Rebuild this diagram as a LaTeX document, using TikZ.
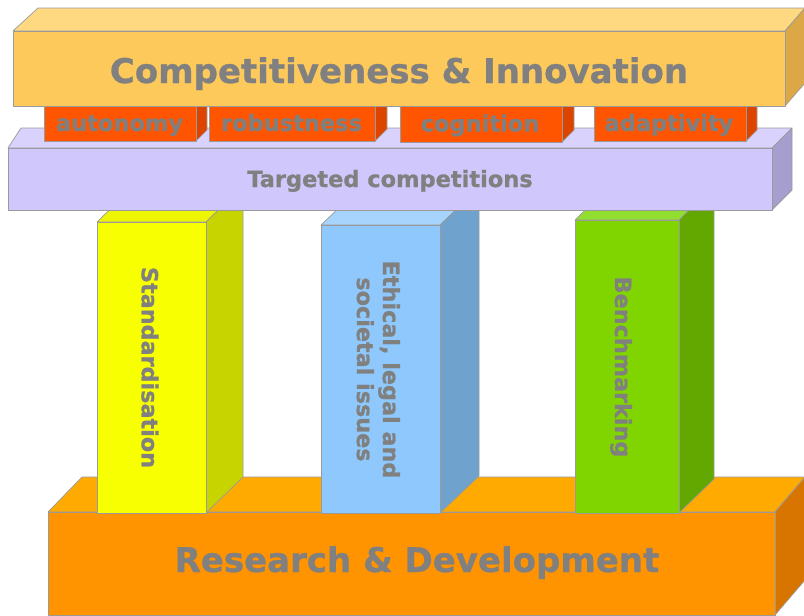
\documentclass[tikz,border=0pt]{standalone}
\usepackage{fontspec}
\setmainfont{DejaVu Sans}[BoldFeatures={FakeBold=0.8}]
\definecolor{txtgray}{HTML}{808080}
\definecolor{edgegray}{HTML}{9A9A9A}
% top box
\definecolor{tcfront}{HTML}{FEC95B}
\definecolor{tctop}{HTML}{FED982}
\definecolor{tcside}{HTML}{DBA747}
% small orange boxes
\definecolor{orfront}{HTML}{FF5500}
\definecolor{ortop}{HTML}{FF7733}
\definecolor{orside}{HTML}{DD4400}
% purple
\definecolor{pufront}{HTML}{D0C8FC}
\definecolor{putop}{HTML}{D8D2FC}
\definecolor{puside}{HTML}{A69ECE}
% yellow pillar
\definecolor{yefront}{HTML}{F8FF00}
\definecolor{yetop}{HTML}{EEF500}
\definecolor{yeside}{HTML}{C8D400}
% blue pillar
\definecolor{blfront}{HTML}{8EC8FC}
\definecolor{bltop}{HTML}{A6D4FC}
\definecolor{blside}{HTML}{70A2CE}
% green pillar
\definecolor{grfront}{HTML}{80D400}
\definecolor{grtop}{HTML}{92DE30}
\definecolor{grside}{HTML}{62A800}
% R&D
\definecolor{rdfront}{HTML}{FF9400}
\definecolor{rdtop}{HTML}{FFAA00}
\definecolor{rdside}{HTML}{D87400}
% cuboid: x1 y1 x2 y2 dxleft dxright depth colourprefix
\newcommand{\cuboid}[8]{%
  \path[boxedge, fill=#8top] (#1,#2) -- (#1+#5,#2-#7) -- (#3+#6,#2-#7) -- (#3,#2) -- cycle;
  \path[boxedge, fill=#8side] (#3,#2) -- (#3+#6,#2-#7) -- (#3+#6,#4-#7) -- (#3,#4) -- cycle;
  \path[boxedge, fill=#8front] (#1,#2) rectangle (#3,#4);
}
\begin{document}
\begin{tikzpicture}[x=1pt,y=-1pt,
  boxedge/.style={draw=edgegray, line width=0.7pt, line join=round},
  lbl/.style={text=txtgray, inner sep=0pt, anchor=base},
  bigfont/.style={font=\fontsize{34}{40}\selectfont\bfseries},
  midfont/.style={font=\fontsize{22.5}{26}\selectfont\bfseries},
  pilfont/.style={font=\fontsize{22.3}{26}\selectfont\bfseries}]
\useasboundingbox (0,0) rectangle (804,616);
% Research & Development base
\cuboid{48}{512}{775}{615}{34}{30}{35}{rd}
% pillars
\cuboid{97}{222}{206}{513}{37}{37}{36}{ye}
\cuboid{321}{225}{440}{513}{39}{39}{37}{bl}
\cuboid{575}{220}{679}{513}{35}{35}{34}{gr}
% targeted competitions
\cuboid{8}{148}{772}{210}{13}{20}{20}{pu}
% small orange boxes
\cuboid{44}{100}{196}{141}{11}{11}{11}{or}
\cuboid{209}{100}{375}{141}{12}{12}{12}{or}
\cuboid{400}{100}{562}{142}{12}{12}{12}{or}
\cuboid{594}{100}{746}{141}{11}{11}{11}{or}
% top box
\cuboid{13}{31}{785}{106}{25}{20}{23}{tc}
% labels
\node[lbl, bigfont] (title) at (399,83) {Competitiveness \& Innovation};
\node[lbl, midfont] (autonomy) at (119.5,131) {autonomy};
\node[lbl, midfont] (robustness) at (291.5,131) {robustness};
\node[lbl, midfont] (cognition) at (480,131.5) {cognition};
\node[lbl, midfont] (adaptivity) at (669,131) {adaptivity};
\node[lbl, midfont] (targeted) at (390,187) {Targeted competitions};
\node[lbl, pilfont, rotate=-90] (stand) at (141.7,367.5) {Standardisation};
\node[lbl, pilfont, rotate=-90] (ethA) at (383,369.5) {Ethical, legal and};
\node[lbl, pilfont, rotate=-90] (ethB) at (357,369.5) {societal issues};
\node[lbl, pilfont, rotate=-90] (bench) at (615,367) {Benchmarking};
\node[lbl, bigfont] (rd) at (417,572) {Research \& Development};
\end{tikzpicture}
\end{document}
